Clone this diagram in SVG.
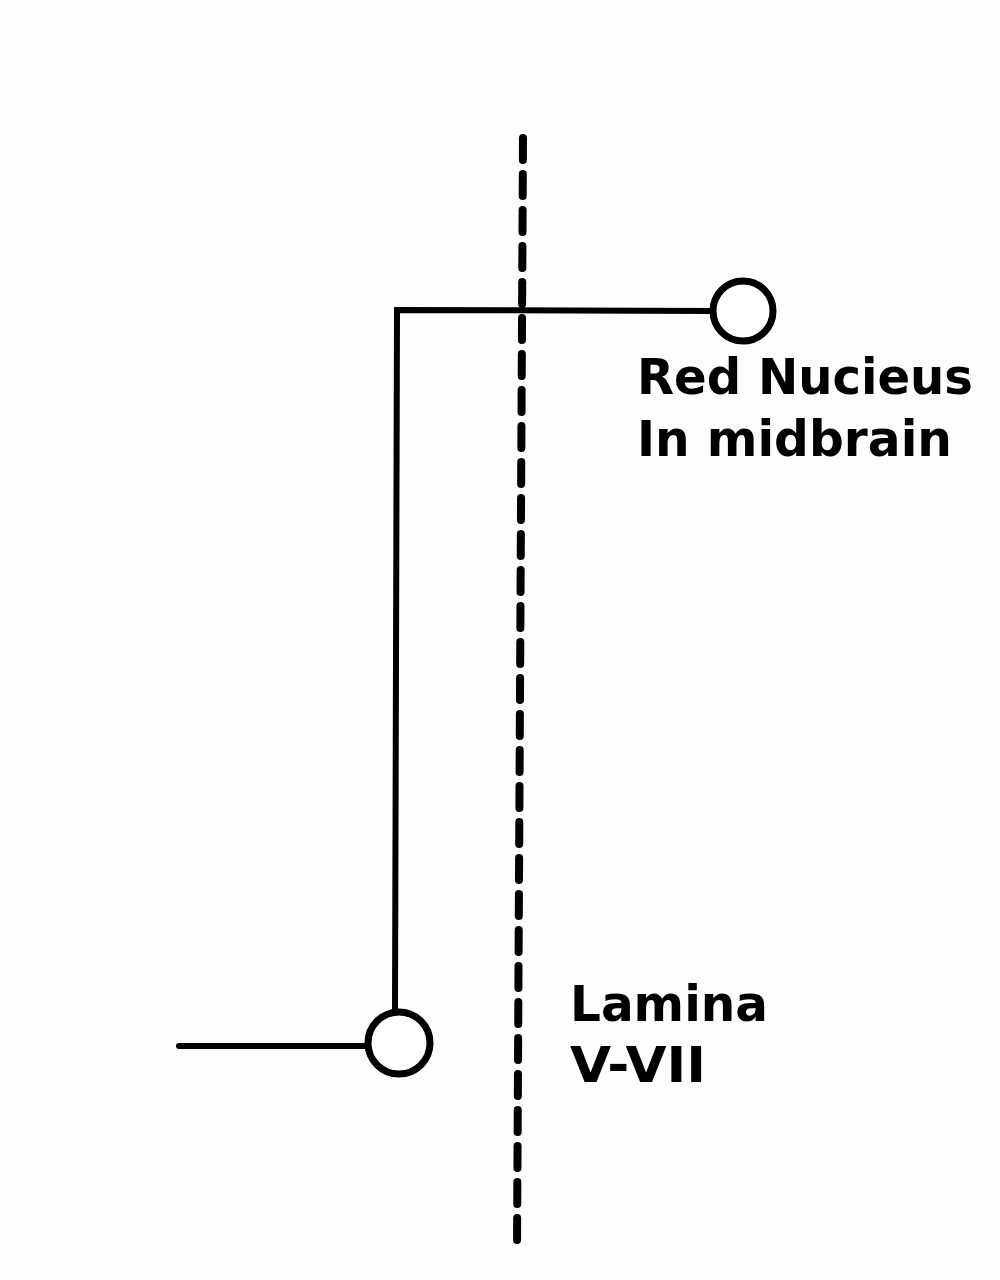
<svg xmlns="http://www.w3.org/2000/svg" width="1000" height="1280" viewBox="0 0 1000 1280">
<style>
.ln{stroke:#000;stroke-width:6;fill:none;stroke-linecap:round;stroke-linejoin:miter}
.nd{stroke:#000;stroke-width:7;fill:#fff}
.dash{stroke:#000;stroke-width:8;fill:none;stroke-dasharray:22 14;stroke-linecap:round}
.lb{font-family:"DejaVu Sans",Verdana,sans-serif;font-weight:bold;font-size:49px;fill:#000}
</style>
<rect width="1000" height="1280" fill="#fdfdfd"/>
<g id="midline">
<line class="dash" x1="523" y1="138" x2="517" y2="1250"/>
</g>
<g id="connectors">
<polyline class="ln" points="712,311 397,310 395,1010"/>
<line class="ln" x1="179" y1="1046" x2="367" y2="1046"/>
</g>
<g id="red-nucleus">
<circle class="nd" cx="743" cy="311" r="30"/>
<text class="lb" x="637" y="394" textLength="336" lengthAdjust="spacingAndGlyphs">Red Nucieus</text>
<text class="lb" x="637" y="456" textLength="315" lengthAdjust="spacingAndGlyphs">In midbrain</text>
</g>
<g id="lamina">
<circle class="nd" cx="399" cy="1043" r="31"/>
<text class="lb" x="570" y="1021" textLength="198" lengthAdjust="spacingAndGlyphs">Lamina</text>
<text class="lb" x="570" y="1082" textLength="136" lengthAdjust="spacingAndGlyphs">V-VII</text>
</g>
</svg>
